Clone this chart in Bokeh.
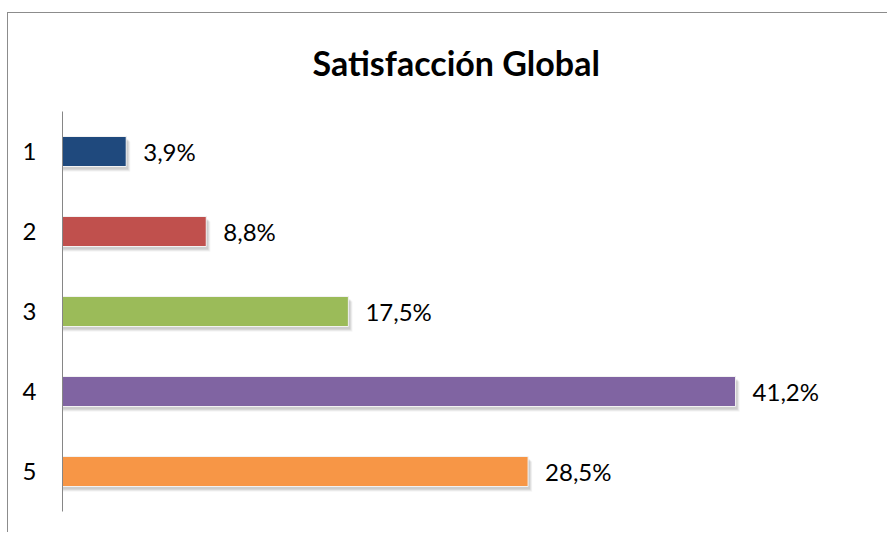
from bokeh.plotting import figure
from bokeh.models import FactorRange, Range1d, ColumnDataSource, Title
from bokeh.transform import dodge
from bokeh.core.properties import value
from bokeh.embed import file_html
from bokeh.resources import INLINE

categories = ["1", "2", "3", "4", "5"]
percentages = [3.9, 8.8, 17.5, 41.2, 28.5]
bar_colors = ["#1F497D", "#C0504D", "#9BBB59", "#8064A2", "#F79646"]
title_text = "Satisfacción Global"

labels = [f"{v:.1f}%".replace(".", ",") for v in percentages]
source = ColumnDataSource(dict(cat=categories, val=percentages,
                               color=bar_colors, label=labels))

FONT = "Lato"
W, H = 880, 520
px = 1.0 / 80.0  # range units per pixel (80 px per category band)

p = figure(width=W, height=H, output_backend="svg", toolbar_location=None,
           y_range=FactorRange(*categories[::-1], range_padding=0),
           x_range=Range1d(0, 49.95),
           min_border_left=54, min_border_right=10,
           min_border_top=98, min_border_bottom=22)
p.styles = {"border-left": "1px solid #8c8c8c",
            "border-top": "1px solid #8c8c8c",
            "margin-top": "12px", "margin-left": "7px"}

p.title = Title(text=title_text, align="left", text_font=FONT,
                text_font_size="34px", text_font_style="bold",
                text_color="#000000", standoff=54, offset=250,
                vertical_align="top", text_line_height=2.5)

p.outline_line_color = None
p.background_fill_color = "white"
p.border_fill_color = "white"
p.xgrid.visible = False
p.ygrid.visible = False
p.xaxis.visible = False

ax = p.yaxis[0]
ax.axis_line_color = "#868686"
ax.axis_line_width = 1
ax.major_tick_line_color = None
ax.minor_tick_line_color = None
ax.major_label_text_font = FONT
ax.major_label_text_font_size = "24px"
ax.major_label_text_color = "#000000"
ax.major_label_standoff = 20

# soft drop shadow layers
for off_y, off_x, a in [(5, 4, 0.10), (4, 3, 0.14), (3, 2, 0.20)]:
    p.hbar(y=dodge("cat", -off_y * px, range=p.y_range), left=0,
           right=dodge("val", off_x / 16.3), height=30 * px,
           source=source, fill_color="#7f7f7f", fill_alpha=a,
           line_color=None)

p.hbar(y="cat", left=0, right="val", height=30 * px, source=source,
       fill_color="color", line_color="#f2f2f2", line_width=1)

p.text(x="val", y="cat", text="label", source=source, x_offset=17,
       text_baseline="middle", text_align="left",
       text_font=value(FONT), text_font_size="24px", text_color="#000000")

open("out.html", "w").write(file_html(p, INLINE))
